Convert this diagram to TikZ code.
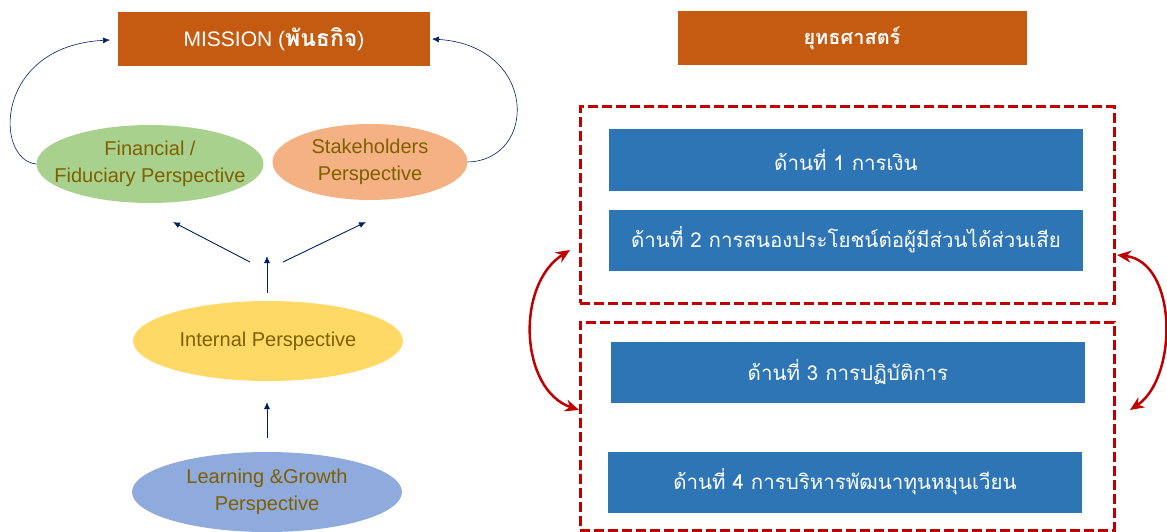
\documentclass[tikz,border=0pt]{standalone}
\usepackage{fontspec}
\setmainfont{Liberation Sans}
\newfontfamily\thaifont[Script=Thai]{Loma}
\usetikzlibrary{shapes.geometric,arrows.meta}
\definecolor{missionc}{HTML}{C55A11}
\definecolor{finc}{HTML}{A9D18E}
\definecolor{stakec}{HTML}{F4B183}
\definecolor{intc}{HTML}{FFD966}
\definecolor{learnc}{HTML}{8FAADC}
\definecolor{olivetext}{HTML}{7F6000}
\definecolor{navy}{HTML}{002060}
\definecolor{bluebox}{HTML}{2E75B6}
\definecolor{darkred}{HTML}{C00000}
\tikzset{
  headbox/.style={fill=missionc, text=white, minimum width=#1, minimum height=54pt, inner sep=0pt, font=\fontsize{21}{23}\selectfont},
  perspshape/.style={ellipse, inner sep=0pt},
  persptext/.style={inner sep=0pt, text=olivetext, align=center, font=\fontsize{20}{27}\selectfont},
  stratbox/.style={fill=bluebox, text=white, minimum width=474pt, minimum height=61pt, inner sep=0pt, font=\thaifont\fontsize{20.5}{22}\selectfont},
  groupbox/.style={draw=darkred, line width=3pt, dash pattern=on 10pt off 4pt, minimum width=534pt, inner sep=0pt},
  navyarrow/.style={draw=navy, line width=0.9pt, -{Latex[length=7pt,width=6pt]}},
  loopedge/.style={draw=navy, line width=0.6pt, -{Latex[length=7pt,width=6pt]}},
  redarrow/.style={draw=darkred, line width=2.5pt, {Stealth[length=14pt,width=12pt]}-{Stealth[length=14pt,width=12pt]}}
}
\begin{document}
\begin{tikzpicture}[x=1pt,y=-1pt]
\useasboundingbox (0,0) rectangle (1167,532);
% left side
\node[headbox=312pt] (mission) at (274,39) {MISSION ({\thaifont\bfseries\fontsize{23}{24}\selectfont พันธกิจ})};
\node[perspshape, fill=finc, minimum width=227pt, minimum height=78pt] (fin) at (150,164) {};
\node[persptext] (finT) at (fin.center) {Financial /\\Fiduciary Perspective};
\node[perspshape, fill=stakec, minimum width=195pt, minimum height=76pt] (stake) at (370,162) {};
\node[persptext] (stakeT) at (stake.center) {Stakeholders\\Perspective};
\node[perspshape, fill=intc, minimum width=270pt, minimum height=80pt] (int) at (268,341) {};
\node[persptext] (intT) at (int.center) {Internal Perspective};
\node[perspshape, fill=learnc, minimum width=270pt, minimum height=80pt] (learn) at (267,492) {};
\node[persptext] (learnT) at (learn.center) {Learning \&Growth\\Perspective};
\coordinate (c1) at (250,262);
\coordinate (c1e) at (173,222);
\coordinate (c2) at (283,262);
\coordinate (c2e) at (366,222);
\coordinate (c3) at (267,293);
\coordinate (c3e) at (267,256);
\coordinate (c4) at (267,438);
\coordinate (c4e) at (267,402);
\draw[navyarrow] (c1) -- (c1e);
\draw[navyarrow] (c2) -- (c2e);
\draw[navyarrow] (c3) -- (c3e);
\draw[navyarrow] (c4) -- (c4e);
\coordinate (mL) at (110,40);
\coordinate (mR) at (432,39);
\draw[loopedge] (fin.west) .. controls (-6,160) and (-6,46) .. (mL);
\draw[loopedge] (stake.east) .. controls (538,160) and (538,46) .. (mR);
% right side
\node[headbox=349pt, font=\thaifont\bfseries\fontsize{20}{22}\selectfont] (strat) at (852,38) {ยุทธศาสตร์};
\node[groupbox, minimum height=196pt] (g1) at (847,205) {};
\node[groupbox, minimum height=208pt] (g2) at (847,426) {};
\node[stratbox] (s1) at (846,160) {ด้านที่ 1 การเงิน};
\node[stratbox] (s2) at (846,240) {ด้านที่ 2 การสนองประโยชน์ต่อผู้มีส่วนได้ส่วนเสีย};
\node[stratbox] (s3) at (848,372) {ด้านที่ 3 การปฏิบัติการ};
\node[stratbox] (s4) at (845,482) {ด้านที่ 4 การบริหารพัฒนาทุนหมุนเวียน};
\coordinate (rl1) at (570,250);
\coordinate (rl2) at (579,410);
\coordinate (rr1) at (1117,255);
\coordinate (rr2) at (1130,410);
\draw[redarrow] (rl1) .. controls (515,285) and (520,390) .. (rl2);
\draw[redarrow] (rr1) .. controls (1178,262) and (1178,378) .. (rr2);
\end{tikzpicture}
\end{document}
